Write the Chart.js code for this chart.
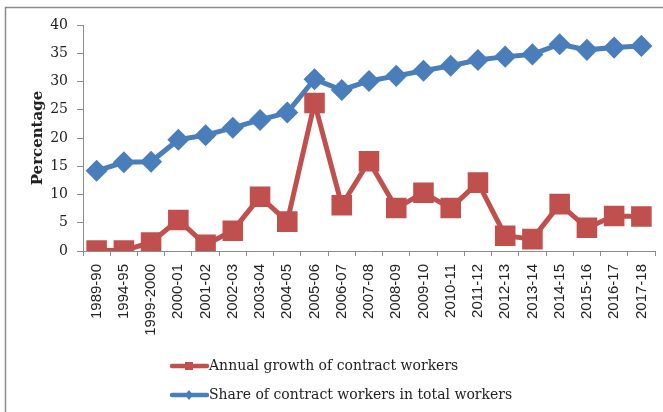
<!DOCTYPE html>
<html>
<head>
<meta charset="utf-8">
<script src="https://cdn.jsdelivr.net/npm/chart.js@4.4.1/dist/chart.umd.min.js"></script>
<style>
  html, body { margin: 0; padding: 0; background: #fff; }
  #wrap { width: 663px; height: 412px; position: relative; overflow: hidden; }
</style>
</head>
<body>
<!-- canvas is a bit wider than the frame: the space the last rotated label reserves falls outside -->
<div id="wrap"><canvas id="growthChart" width="671" height="412"></canvas></div>
<script>
const years = ['1989-90', '1994-95', '1999-2000', '2000-01', '2001-02', '2002-03', '2003-04', '2004-05',
  '2005-06', '2006-07', '2007-08', '2008-09', '2009-10', '2010-11', '2011-12', '2012-13', '2013-14',
  '2014-15', '2015-16', '2016-17', '2017-18'];
const annualGrowth = [0.1, 0.1, 1.5, 5.5, 1.1, 3.6, 9.6, 5.2, 26.2, 8.1, 15.9, 7.6, 10.3, 7.6, 12.1, 2.7, 2.1, 8.3, 4.1, 6.2, 6.1];
const shareOfWorkers = [14.2, 15.7, 15.8, 19.7, 20.5, 21.8, 23.2, 24.5, 30.4, 28.5, 30.1, 31.0, 31.9, 32.8, 33.8, 34.4, 34.8, 36.6, 35.6, 36.0, 36.3];
const yTicks = [0, 5, 10, 15, 20, 25, 30, 35, 40];

const RED = '#C0504D';
const BLUE = '#4A7EBB';
const serif = '"DejaVu Serif", serif';

// outer frame and the two-row legend under the axis labels
const framePlugin = {
  id: 'frameAndLegend',
  afterDraw(chart) {
    const ctx = chart.ctx;
    ctx.save();
    ctx.strokeStyle = '#8c8c8c';
    ctx.lineWidth = 1.5;
    ctx.beginPath();
    ctx.moveTo(5.5, 412);
    ctx.lineTo(5.5, 7.5);
    ctx.lineTo(671, 7.5);
    ctx.stroke();

    const rows = [366, 395];
    chart.data.datasets.forEach((ds, i) => {
      const y = rows[i];
      ctx.strokeStyle = ds.borderColor;
      ctx.lineWidth = 4.5;
      ctx.lineCap = 'round';
      ctx.beginPath();
      ctx.moveTo(172, y);
      ctx.lineTo(207, y);
      ctx.stroke();
      ctx.fillStyle = ds.borderColor;
      ctx.beginPath();
      if (ds.pointStyle === 'rect') {
        ctx.rect(185, y - 4, 8, 8);
      } else {
        ctx.moveTo(189, y - 5);
        ctx.lineTo(193, y);
        ctx.lineTo(189, y + 5);
        ctx.lineTo(185, y);
        ctx.closePath();
      }
      ctx.fill();
      ctx.fillStyle = '#222';
      ctx.font = '14px ' + serif;
      ctx.textBaseline = 'middle';
      ctx.textAlign = 'left';
      ctx.fillText(ds.label, 209, y);
    });
    ctx.restore();
  }
};

new Chart(document.getElementById('growthChart'), {
  type: 'line',
  data: {
    labels: years,
    datasets: [
      {
        label: 'Annual growth of contract workers',
        data: annualGrowth,
        borderColor: RED,
        backgroundColor: RED,
        borderWidth: 5,
        pointStyle: 'rect',
        pointRadius: 11,
        pointHoverRadius: 11,
        tension: 0
      },
      {
        label: 'Share of contract workers in total workers',
        data: shareOfWorkers,
        borderColor: BLUE,
        backgroundColor: BLUE,
        borderWidth: 5,
        pointStyle: 'rectRot',
        pointRadius: 7.5,
        pointHoverRadius: 7.5,
        tension: 0
      }
    ]
  },
  options: {
    responsive: false,
    animation: false,
    layout: { padding: { left: 29, right: 0, top: 25, bottom: 0 } },
    plugins: {
      legend: { display: false },
      tooltip: { enabled: false }
    },
    scales: {
      x: {
        offset: true,
        afterFit(scale) { scale.height = 161; },
        grid: { drawOnChartArea: false, drawTicks: true, tickLength: 5, color: '#8c8c8c', offset: true },
        border: { color: '#8c8c8c', width: 1 },
        ticks: {
          minRotation: 90,
          maxRotation: 90,
          autoSkip: false,
          padding: 8,
          color: '#222',
          font: { family: '"Liberation Sans", Arial, sans-serif', size: 15 }
        }
      },
      y: {
        min: 0,
        max: 40,
        afterFit(scale) { scale.width = 54; },
        afterBuildTicks(scale) { scale.ticks = yTicks.map(v => ({ value: v })); },
        grid: { drawOnChartArea: false, drawTicks: true, tickLength: 6, color: '#8c8c8c' },
        border: { color: '#8c8c8c', width: 1 },
        title: {
          display: true,
          text: 'Percentage',
          color: '#222',
          padding: { top: 0, bottom: 4 },
          font: { family: serif, size: 15, weight: 'bold' }
        },
        ticks: {
          padding: 9,
          color: '#222',
          font: { family: serif, size: 14 }
        }
      }
    }
  },
  plugins: [framePlugin]
});
</script>
</body>
</html>
